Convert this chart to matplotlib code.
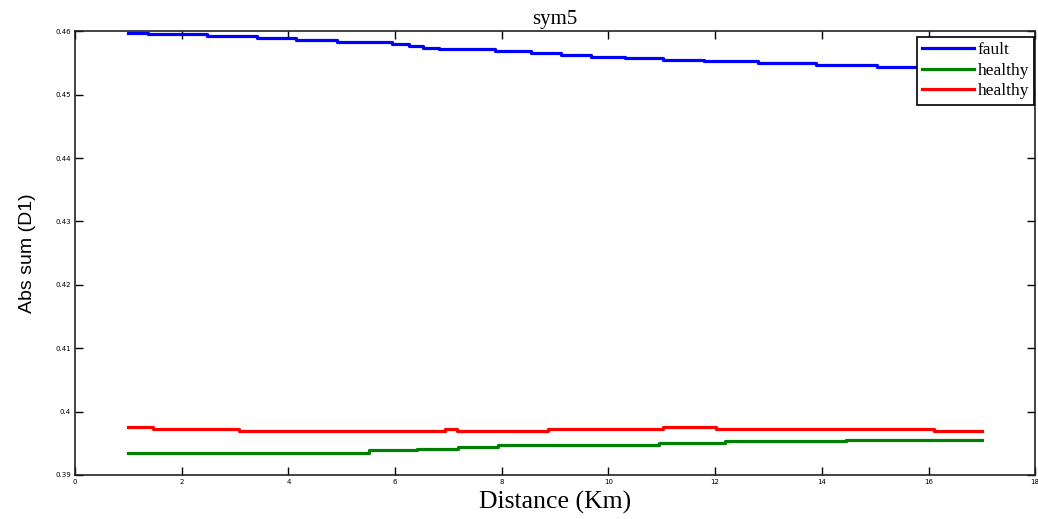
import numpy as np
import matplotlib
matplotlib.use("Agg")
import matplotlib.pyplot as plt

# step change points (km) and levels
fault_x = [1.0, 1.37, 2.48, 3.42, 4.14, 4.92, 5.94, 6.27, 6.53, 6.83, 7.88,
           8.55, 9.11, 9.68, 10.31, 11.02, 11.8, 12.81, 13.89, 15.03]
fault_y = [0.45973, 0.45953, 0.45926, 0.45890, 0.45863, 0.45834, 0.45806,
           0.45768, 0.45743, 0.45716, 0.45689, 0.45658, 0.45633, 0.45601,
           0.45578, 0.45554, 0.45527, 0.45496, 0.45469, 0.45437]

green_x = [1.0, 5.52, 6.41, 7.17, 7.92, 10.94, 12.18, 14.46]
green_y = [0.39352, 0.39387, 0.39415, 0.39446, 0.39473, 0.39500, 0.39531, 0.39556]

red_x = [1.0, 1.47, 3.08, 6.94, 7.16, 8.87, 11.02, 12.02, 16.11]
red_y = [0.39752, 0.39725, 0.39698, 0.39725, 0.39698, 0.39720, 0.39752,
         0.39725, 0.39698]

x_end = 17.0
xticks = np.arange(0, 19, 2)
yticks = [0.39, 0.40, 0.41, 0.42, 0.43, 0.44, 0.45, 0.46]

fig = plt.figure(figsize=(10.38, 5.19), dpi=100)
ax = fig.add_axes([0.0723, 0.0848, 0.925, 0.855])

def stairs(xs, ys):
    return np.append(xs, x_end), np.append(ys, ys[-1])

x, y = stairs(fault_x, fault_y)
ax.step(x, y, where="post", color=(0, 0, 1), lw=2.3, label="fault")
x, y = stairs(green_x, green_y)
ax.step(x, y, where="post", color=(0, 0.5, 0), lw=2.3, label="healthy")
x, y = stairs(red_x, red_y)
ax.step(x, y, where="post", color=(1, 0, 0), lw=2.3, label="healthy")

ax.set_xlim(0, 18)
ax.set_ylim(0.39, 0.46)
ax.set_xticks(xticks)
ax.set_xticklabels([str(v) for v in xticks])
ax.set_yticks(yticks)
ax.set_yticklabels(["%g" % v for v in yticks])
ax.tick_params(direction="in", length=6, width=1, labelsize=5, top=True, right=True, pad=3)
for s in ax.spines.values():
    s.set_linewidth(1.2)
    s.set_color("#222222")

ax.set_title("sym5", family="Liberation Serif", fontsize=15, pad=5)
ax.set_xlabel("Distance (Km)", family="Liberation Serif", fontsize=18.5, labelpad=4)
ax.set_ylabel("Abs sum (D1)", family="Liberation Sans", fontsize=14, labelpad=14)

leg = ax.legend(loc="upper right", bbox_to_anchor=(0.999, 0.987), fancybox=False,
                edgecolor="black", framealpha=1, borderaxespad=0,
                prop={"family": "Liberation Serif", "size": 12.5},
                handlelength=3.0, handletextpad=0.2, labelspacing=0.25,
                borderpad=0.3)
leg.get_frame().set_linewidth(1.2)

fig.savefig("out.png", dpi=100)
